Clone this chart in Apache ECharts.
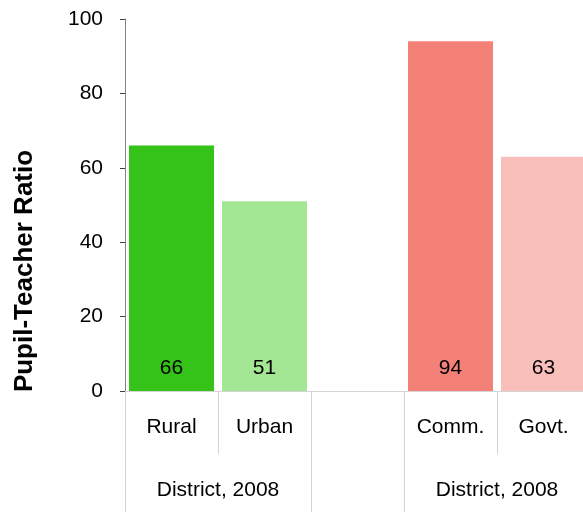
<!DOCTYPE html>
<html>
<head>
<meta charset="utf-8">
<script src="https://cdn.jsdelivr.net/npm/echarts@6/dist/echarts.min.js"></script>
<style>
html,body{margin:0;padding:0;background:#fff;}
#chart{width:583px;height:512px;}
</style>
</head>
<body>
<div id="chart"></div>
<script>
// ---- data ----
const categories = ['Rural', 'Urban', '', 'Comm.', 'Govt.'];
const ratios = [66, 51, null, 94, 63];
const groupNames = ['District, 2008', 'District, 2008'];
const groupStarts = [0, 3];
const groupSizes = [2, 2];
const yTicks = [0, 20, 40, 60, 80, 100];
const yTitle = 'Pupil-Teacher Ratio';

// ---- styles ----
const palette = ['#35c219', '#a3e794', '#ffffff', '#f48178', '#f9bfbb'];
const FONT = "'Liberation Sans', Arial, sans-serif";
const sepColor = '#d4d4d4';

const boundaries = [];
groupStarts.forEach((s, i) => { boundaries.push(s, s + groupSizes[i]); });
const groupCenters = groupStarts.map((s, i) => s + groupSizes[i] / 2);

const chart = echarts.init(document.getElementById('chart'));
chart.setOption({
  animation: false,
  grid: { left: 125, top: 19, width: 465, bottom: 121, containLabel: false, outerBoundsMode: 'none' },
  xAxis: [
    {
      type: 'category',
      data: categories,
      axisLine: { show: true, lineStyle: { color: sepColor, width: 1 } },
      axisTick: { show: true, length: 63, lineStyle: { color: sepColor } },
      axisLabel: { margin: 26, fontSize: 21, color: '#000', fontFamily: FONT },
      splitLine: { show: false }
    },
    {
      type: 'value',
      position: 'bottom',
      min: 0,
      max: categories.length,
      axisLine: { show: false },
      splitLine: { show: false },
      axisTick: { show: true, customValues: boundaries, length: 121, lineStyle: { color: sepColor } },
      axisLabel: {
        show: true,
        customValues: groupCenters,
        margin: 89,
        fontSize: 21,
        color: '#000',
        fontFamily: FONT,
        formatter: function (v) {
          const i = groupCenters.indexOf(v);
          return i >= 0 ? groupNames[i] : '';
        }
      }
    }
  ],
  yAxis: {
    type: 'value',
    min: yTicks[0],
    max: yTicks[yTicks.length - 1],
    interval: yTicks[1] - yTicks[0],
    axisLine: { show: true, lineStyle: { color: '#808080', width: 1 } },
    axisTick: { show: true, length: 5, lineStyle: { color: '#404040' } },
    axisLabel: { margin: 22, fontSize: 21, color: '#000', fontFamily: FONT },
    splitLine: { show: false }
  },
  graphic: [{
    type: 'text',
    x: 25,
    y: 271,
    rotation: Math.PI / 2,
    style: {
      text: yTitle,
      x: 0, y: 0,
      align: 'center',
      verticalAlign: 'middle',
      font: 'bold 26px ' + FONT,
      fill: '#000'
    }
  }],
  series: [{
    type: 'bar',
    xAxisIndex: 0,
    barWidth: 85,
    data: ratios.map((v, i) => ({ value: v, itemStyle: { color: palette[i] } })),
    label: {
      show: true,
      position: 'insideBottom',
      distance: 12,
      fontSize: 21,
      color: '#000',
      fontFamily: FONT,
      formatter: p => (p.value == null ? '' : String(p.value))
    }
  }]
});
</script>
</body>
</html>
